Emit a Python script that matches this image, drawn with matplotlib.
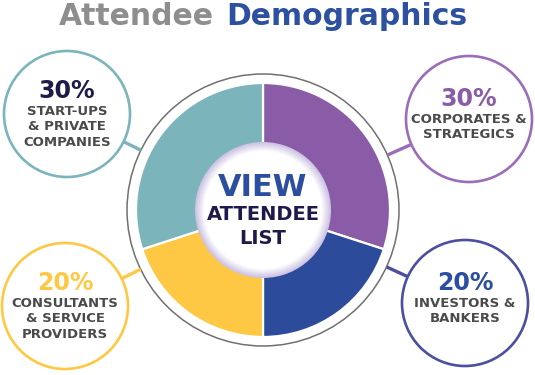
import matplotlib
matplotlib.use("Agg")
import matplotlib.pyplot as plt
import numpy as np
from matplotlib.patches import Circle

# data
categories = ["CORPORATES &\nSTRATEGICS", "INVESTORS &\nBANKERS",
              "CONSULTANTS\n& SERVICE\nPROVIDERS", "START-UPS\n& PRIVATE\nCOMPANIES"]
shares = [30, 20, 20, 30]
wedge_colors = ["#8a5ba6", "#2c4b9b", "#ffc844", "#7bb5bb"]
ring_colors = ["#9b6db8", "#4b4f9f", "#ffc844", "#7bb5bb"]
pct_colors = ["#8a5ba6", "#2b4ea0", "#ffc844", "#1e1a4a"]
# bubble centres in pixel coords (y from top)
bubble_xy = [(469, 119), (465, 303), (65, 306), (67, 114)]

W, H = 535, 375
fig = plt.figure(figsize=(W / 100, H / 100), dpi=100)
ax = fig.add_axes([0, 0, 1, 1])

cx, cy = 263, H - 210
pie_r, ring_r, hole_r = 127, 136, 68
bub_r = 63

ax.pie(shares, colors=wedge_colors, startangle=90, counterclock=False,
       radius=pie_r, center=(cx, cy),
       wedgeprops=dict(edgecolor="white", linewidth=1.6))

ax.add_patch(Circle((cx, cy), ring_r, fill=False, edgecolor="#707070", linewidth=1.1))

# inner white disc with lavender glow at its rim
glow = np.linspace(0, 1, 12)
for t in glow:
    r = hole_r - 9 * t
    c = np.array([0.80, 0.76, 0.89]) * (1 - t) + np.array([1, 1, 1]) * t
    ax.add_patch(Circle((cx, cy), r, facecolor=c, edgecolor="none"))

ax.text(cx, H - 187, "VIEW", ha="center", va="center", fontsize=22,
        fontweight="bold", color="#2b4ea0")
ax.text(cx, H - 215, "ATTENDEE", ha="center", va="center", fontsize=14,
        fontweight="bold", color="#1e1a4a")
ax.text(cx, H - 238, "LIST", ha="center", va="center", fontsize=14,
        fontweight="bold", color="#1e1a4a")

for share, label, bxy, rc, pc in zip(shares, categories, bubble_xy, ring_colors, pct_colors):
    bx, by = bxy[0], H - bxy[1]
    d = np.array([bx - cx, by - cy], dtype=float)
    d /= np.hypot(*d)
    p0 = np.array([cx, cy]) + d * ring_r
    p1 = np.array([bx, by]) - d * bub_r
    ax.plot([p0[0], p1[0]], [p0[1], p1[1]], color=rc, linewidth=2.4,
            solid_capstyle="butt", zorder=2)
    ax.add_patch(Circle((bx, by), bub_r, facecolor="white", edgecolor=rc,
                        linewidth=1.9, zorder=3))
    nlines = label.count("\n") + 1
    if nlines == 3:
        ax.text(bx, by + 23, f"{share}%", ha="center", va="center", fontsize=17,
                fontweight="bold", color=pc, zorder=4)
        ax.text(bx, by - 13, label, ha="center", va="center", fontsize=9.5,
                fontweight="bold", color="#4a4a4a", linespacing=1.25, zorder=4)
    else:
        ax.text(bx, by + 20, f"{share}%", ha="center", va="center", fontsize=17,
                fontweight="bold", color=pc, zorder=4)
        ax.text(bx, by - 8, label, ha="center", va="center", fontsize=9.5,
                fontweight="bold", color="#4a4a4a", linespacing=1.25, zorder=4)

ax.text(214, H - 25, "Attendee", ha="right", va="baseline", fontsize=21.5,
        fontweight="bold", color="#8e8e8e")
ax.text(226, H - 25, "Demographics", ha="left", va="baseline", fontsize=21.5,
        fontweight="bold", color="#2d50a0")

ax.set_xlim(0, W)
ax.set_ylim(0, H)
ax.set_aspect("equal")
ax.axis("off")

fig.savefig("out.png", dpi=100, facecolor="white")
